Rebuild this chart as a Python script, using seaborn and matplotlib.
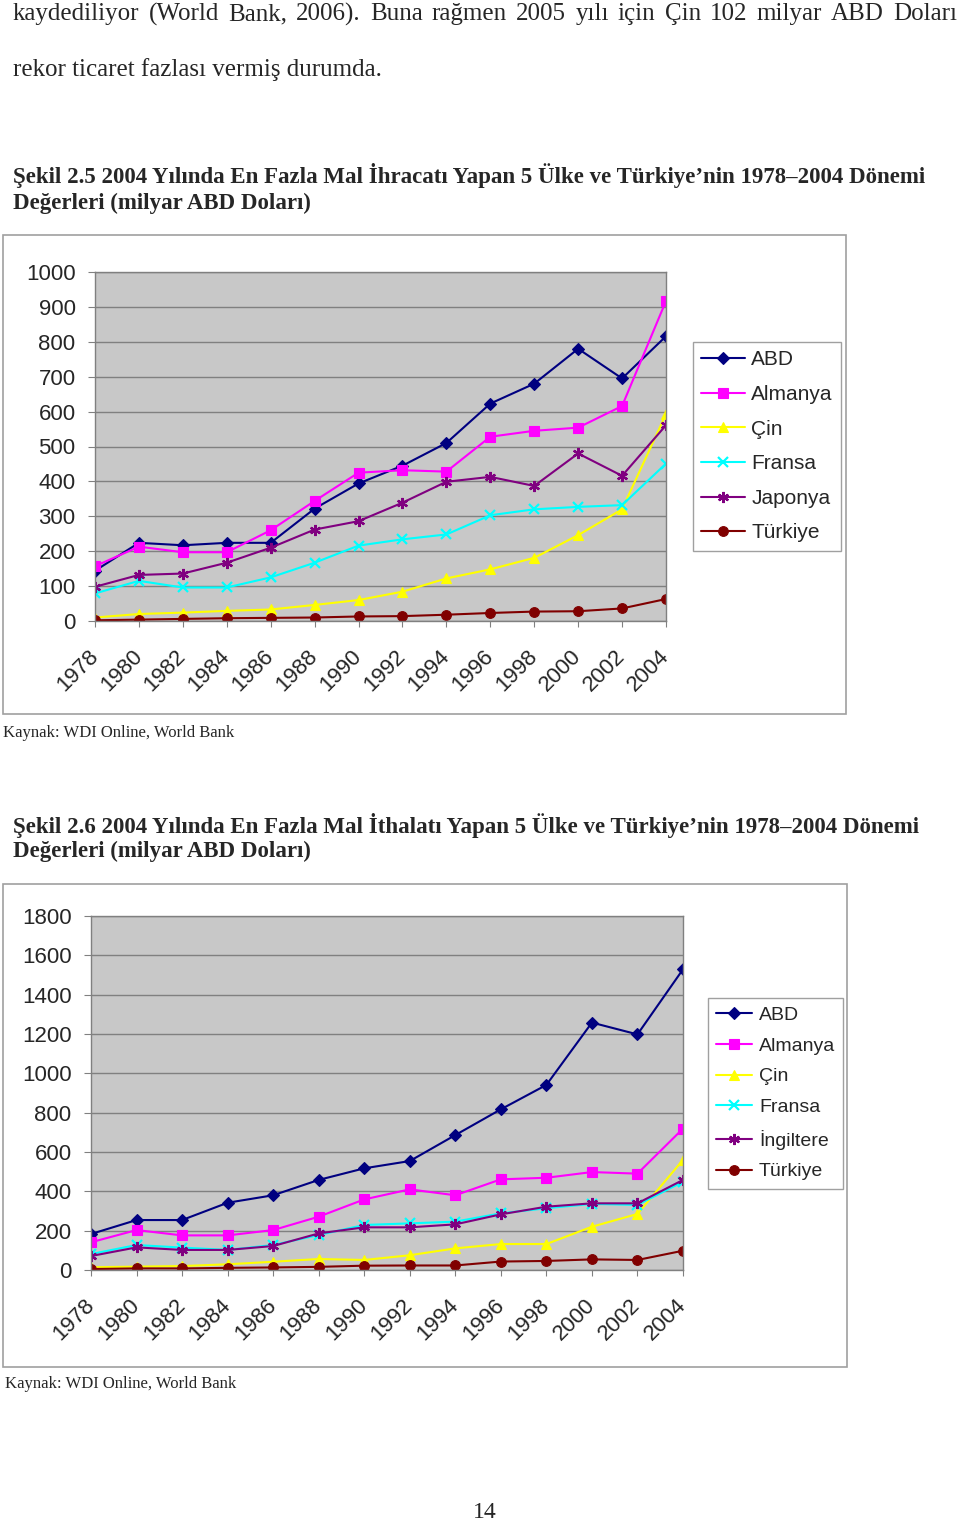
import matplotlib
matplotlib.use("Agg")
import matplotlib.pyplot as plt
import matplotlib.patches as patches
import seaborn as sns

sns.set_style("white")
plt.rcParams['font.family'] = ['Liberation Sans', 'DejaVu Sans']

# data (milyar ABD Doları)
years = [1978, 1980, 1982, 1984, 1986, 1988, 1990, 1992, 1994, 1996, 1998, 2000, 2002, 2004]

exp_abd = [144, 224, 217, 224, 224, 322, 394, 445, 510, 623, 680, 780, 695, 816]
exp_almanya = [157, 213, 197, 197, 260, 344, 425, 432, 428, 528, 545, 554, 616, 917]
exp_cin = [10, 20, 24, 29, 33, 46, 60, 84, 122, 148, 181, 246, 320, 593]
exp_fransa = [79, 115, 96, 96, 125, 167, 216, 234, 248, 303, 320, 327, 332, 451]
exp_japonya = [98, 132, 136, 167, 210, 262, 286, 339, 399, 413, 387, 480, 416, 561]
exp_turkiye = [2, 4, 6, 8, 9, 10, 13, 14, 18, 23, 27, 28, 36, 63]

imp_abd = [183, 254, 254, 342, 380, 458, 517, 554, 686, 817, 941, 1258, 1198, 1529]
imp_almanya = [141, 203, 176, 176, 203, 271, 359, 410, 380, 461, 469, 498, 490, 719]
imp_cin = [14, 17, 20, 29, 42, 56, 51, 75, 110, 132, 132, 220, 285, 560]
imp_fransa = [81, 127, 114, 102, 127, 178, 229, 237, 246, 288, 314, 336, 331, 449]
imp_ingiltere = [71, 115, 102, 102, 122, 186, 217, 217, 232, 283, 322, 339, 339, 458]
imp_turkiye = [5, 8, 8, 11, 13, 16, 22, 23, 23, 43, 46, 54, 51, 98]

exp_names = ["ABD", "Almanya", "Çin", "Fransa", "Japonya", "Türkiye"]
imp_names = ["ABD", "Almanya", "Çin", "Fransa", "İngiltere", "Türkiye"]
exp_series = [exp_abd, exp_almanya, exp_cin, exp_fransa, exp_japonya, exp_turkiye]
imp_series = [imp_abd, imp_almanya, imp_cin, imp_fransa, imp_ingiltere, imp_turkiye]

colors = ["#000080", "#FF00FF", "#FFFF00", "#00FFFF", "#800080", "#800000"]
markers = ["D", "s", "^", "x", (6, 2, 0), "o"]
msizes = [6.5, 6.5, 7, 7, 8, 7]

W, H = 960, 1525
fig = plt.figure(figsize=(9.6, 15.25), dpi=100)


def fx(px):
    return px / W


def fy(py):
    return 1 - py / H


serif = ['Liberation Serif', 'DejaVu Serif']

# first body line is justified across the page width
line1 = "kaydediliyor (World Bank, 2006). Buna rağmen 2005 yılı için Çin 102 milyar ABD Doları"
words = line1.split(" ")
renderer = fig.canvas.get_renderer()
tmp = [fig.text(0, 0, w, family=serif, fontsize=18) for w in words]
widths = [t.get_window_extent(renderer).width for t in tmp]
for t in tmp:
    t.remove()
gap = (957 - 13 - sum(widths)) / (len(words) - 1)
xpos = 13
for w, wd in zip(words, widths):
    fig.text(fx(xpos), fy(14), w, family=serif, fontsize=18, va='center', ha='left')
    xpos += wd + gap

fig.text(fx(13), fy(70), "rekor ticaret fazlası vermiş durumda.", family=serif, fontsize=18, va='center', ha='left')

fig.text(fx(13), fy(176), "Şekil 2.5 2004 Yılında En Fazla Mal İhracatı Yapan 5 Ülke ve Türkiye’nin 1978–2004 Dönemi",
         family=serif, fontsize=16.5, fontweight='bold', va='center', ha='left')
fig.text(fx(13), fy(203), "Değerleri (milyar ABD Doları)", family=serif, fontsize=16.5, fontweight='bold',
         va='center', ha='left')

fig.text(fx(13), fy(825), "Şekil 2.6 2004 Yılında En Fazla Mal İthalatı Yapan 5 Ülke ve Türkiye’nin 1978–2004 Dönemi",
         family=serif, fontsize=16.5, fontweight='bold', va='center', ha='left')
fig.text(fx(13), fy(851), "Değerleri (milyar ABD Doları)", family=serif, fontsize=16.5, fontweight='bold',
         va='center', ha='left')

fig.text(fx(3), fy(733), "Kaynak: WDI Online, World Bank", family=serif, fontsize=12, va='center', ha='left')
fig.text(fx(5), fy(1384), "Kaynak: WDI Online, World Bank", family=serif, fontsize=12, va='center', ha='left')
fig.text(fx(485), fy(1513), "14", family=serif, fontsize=17, va='center', ha='center')

# chart frames
for (x0, y0, x1, y1) in [(3, 235, 846, 714), (3, 884, 847, 1367)]:
    fig.patches.append(patches.Rectangle((fx(x0), fy(y1)), fx(x1 - x0), (y1 - y0) / H,
                                         transform=fig.transFigure, fill=False,
                                         edgecolor="#a0a0a0", linewidth=1.2))


def draw(rect, names, series, ymax, ystep, legend_xy, legend_font, legend_space, hlen, hpad, bpad):
    x0, y0, x1, y1 = rect
    ax = fig.add_axes([fx(x0), fy(y1), fx(x1 - x0), (y1 - y0) / H])
    ax.set_facecolor("#C8C8C8")
    for name, vals, c, m, ms in zip(names, series, colors, markers, msizes):
        mew = 1.6 if m in ("x",) or isinstance(m, tuple) else 0.8
        sns.lineplot(x=years, y=vals, ax=ax, color=c, marker=m, markersize=ms,
                     markeredgecolor=c, markeredgewidth=mew, linewidth=1.5, label=name)
    ax.set_xlim(years[0], years[-1])
    ax.set_ylim(0, ymax)
    ax.set_yticks(range(0, ymax + 1, ystep))
    ax.set_xticks(years)
    ax.set_xticklabels([str(y) for y in years], rotation=45, ha='right', va='center',
                       rotation_mode='anchor')
    ax.yaxis.grid(True, color="#808080", linewidth=1)
    ax.set_axisbelow(True)
    for s in ax.spines.values():
        s.set_color("#808080")
        s.set_linewidth(1)
    ax.tick_params(axis='y', length=5, color="#808080", labelsize=16, pad=9, left=True)
    ax.tick_params(axis='x', length=4, color="#808080", labelsize=16, pad=19, bottom=True)
    ax.set_xlabel("")
    ax.set_ylabel("")
    handles, labels = ax.get_legend_handles_labels()
    ax.get_legend().remove()
    leg = fig.legend(handles, labels, loc='upper left', bbox_to_anchor=(fx(legend_xy[0]), fy(legend_xy[1])),
                     bbox_transform=fig.transFigure, fontsize=legend_font, frameon=True, fancybox=False,
                     framealpha=1, edgecolor="#a0a0a0", handlelength=hlen, handletextpad=hpad,
                     labelspacing=legend_space, borderpad=bpad, borderaxespad=0)
    leg.get_frame().set_linewidth(1)
    return ax


draw((95, 272, 666, 621), exp_names, exp_series, 1000, 100, (693, 342), 15, 0.75, 2.1, 0.3, 0.4)
draw((91, 916, 683, 1270), imp_names, imp_series, 1800, 200, (708, 998), 14, 0.68, 1.85, 0.35, 0.42)

fig.savefig("out.png", dpi=100)
